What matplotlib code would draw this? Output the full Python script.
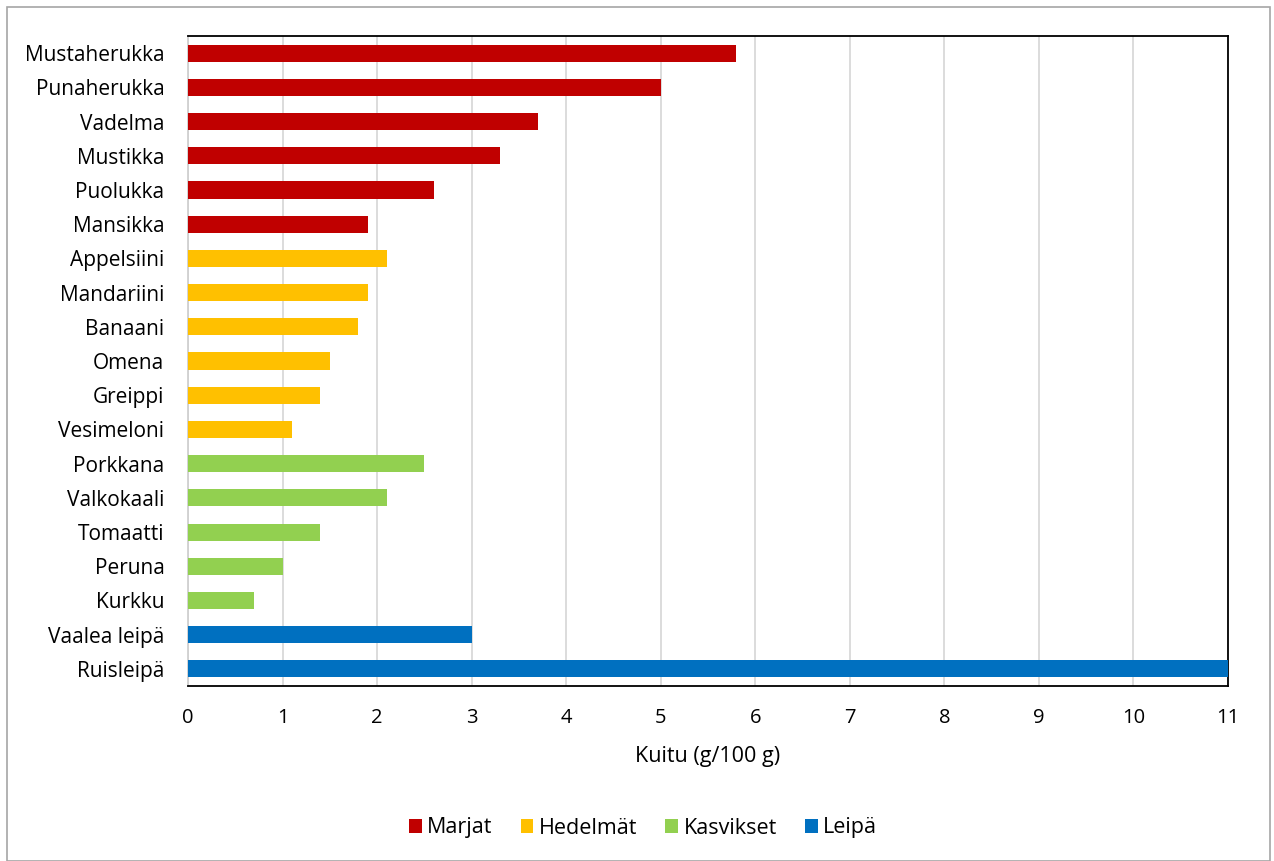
import matplotlib.pyplot as plt
from matplotlib.patches import Rectangle

plt.rcParams['font.family'] = ['Open Sans', 'DejaVu Sans']

# fibre content per 100 g, top to bottom
marjat = ['Mustaherukka', 'Punaherukka', 'Vadelma', 'Mustikka', 'Puolukka', 'Mansikka']
marjat_kuitu = [5.8, 5.0, 3.7, 3.3, 2.6, 1.9]
hedelmat = ['Appelsiini', 'Mandariini', 'Banaani', 'Omena', 'Greippi', 'Vesimeloni']
hedelmat_kuitu = [2.1, 1.9, 1.8, 1.5, 1.4, 1.1]
kasvikset = ['Porkkana', 'Valkokaali', 'Tomaatti', 'Peruna', 'Kurkku']
kasvikset_kuitu = [2.5, 2.1, 1.4, 1.0, 0.7]
leipa = ['Vaalea leipä', 'Ruisleipä']
leipa_kuitu = [3.0, 11.0]

groups = [
    ('Marjat', marjat, marjat_kuitu, '#c00000'),
    ('Hedelmät', hedelmat, hedelmat_kuitu, '#ffc000'),
    ('Kasvikset', kasvikset, kasvikset_kuitu, '#92d050'),
    ('Leipä', leipa, leipa_kuitu, '#0070c0'),
]

fig = plt.figure(figsize=(12.74, 8.61), dpi=100)
ax = fig.add_axes([188 / 1274, 1 - 686 / 861, 1040 / 1274, 650 / 861])

all_names = []
for name, items, vals, col in groups:
    pos = list(range(len(all_names), len(all_names) + len(items)))
    ax.barh(pos, vals, height=0.5, color=col, label=name, zorder=3)
    all_names += items

ax.set_yticks(range(len(all_names)))
ax.set_yticklabels(all_names, fontsize=15)
ax.set_ylim(len(all_names) - 0.5, -0.5)

ax.set_xlim(0, 11)
ax.set_xticks(range(12))
ax.tick_params(axis='x', labelsize=14.5, length=0, pad=16)
ax.tick_params(axis='y', length=0, pad=17)
ax.xaxis.grid(True, color='#d9d9d9', linewidth=1.3, zorder=0)
ax.set_xlabel('Kuitu (g/100 g)', fontsize=15.5, labelpad=13)

for s in ['top', 'right', 'bottom']:
    ax.spines[s].set_color('black')
    ax.spines[s].set_linewidth(1.3)
ax.spines['left'].set_color('#d0d0d0')
ax.spines['left'].set_linewidth(1.3)

fig.legend(loc='center', bbox_to_anchor=(643 / 1274, 1 - 828 / 861), ncol=4,
           frameon=False, fontsize=15.5, handlelength=0.6, handleheight=0.6,
           handletextpad=0.25, columnspacing=1.3)

# outer chart border
fig.patches.append(Rectangle((7 / 1274, 0), 1263 / 1274, 1 - 7 / 861,
                             transform=fig.transFigure, fill=False,
                             edgecolor='#a6a6a6', linewidth=1.2))

fig.savefig('out.png', dpi=100)
